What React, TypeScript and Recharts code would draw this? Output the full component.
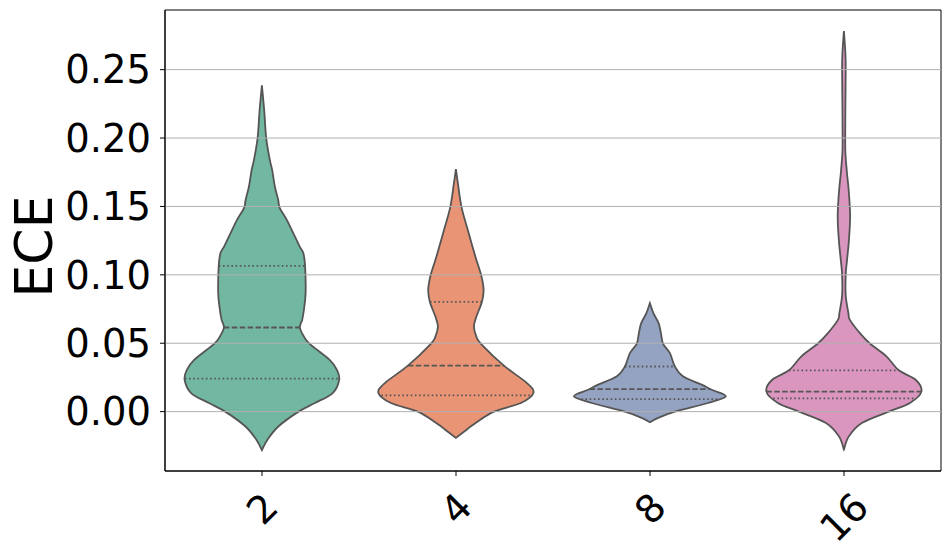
import React from "react";
import { ComposedChart, Bar, XAxis, YAxis, ReferenceLine, ReferenceArea, Cell } from "recharts";

// ---- data ----
const categories = ["2", "4", "8", "16"];
const yTicks = [0, 0.05, 0.1, 0.15, 0.2, 0.25];
const yDomain = [-0.0434, 0.2936];

// violin outlines: ECE value (top -> bottom) and half-width (density, 77.5 = widest)
const v2Values = [0.2385, 0.2203, 0.2, 0.1838, 0.1765, 0.1644, 0.1547, 0.149, 0.14, 0.13, 0.1206, 0.1158, 0.106, 0.0866, 0.0744, 0.0671, 0.0615, 0.0549, 0.0494, 0.038, 0.0306, 0.0233, 0.0136, 0.0063, 0, -0.0107, -0.0204, -0.0282];
const v2Widths = [0, 2.3, 4.3, 8, 10.3, 13, 16.3, 17.8, 25, 31.7, 37.8, 41.5, 43.2, 43.7, 42, 40.3, 38, 42, 48, 67.5, 75, 77.3, 70.8, 53, 36.7, 16.7, 5.7, 0];

const v4Values = [0.1773, 0.1668, 0.1493, 0.1304, 0.1133, 0.0997, 0.089, 0.0802, 0.0695, 0.0622, 0.0549, 0.0494, 0.0336, 0.0209, 0.0136, 0.0063, 0, -0.0082, -0.0155, -0.0192];
const v4Widths = [0, 2, 5.7, 12.8, 19.5, 25.3, 27.7, 26, 20.5, 18, 20.5, 25.3, 48, 71, 77.5, 65, 38, 20, 6.7, 0];

const v8Values = [0.0793, 0.072, 0.0647, 0.0574, 0.0496, 0.0428, 0.033, 0.0258, 0.0197, 0.016, 0.0112, 0.0063, 0, -0.0046, -0.0078];
const v8Widths = [0, 3.5, 8.7, 11, 13.2, 20, 25, 33, 51.7, 61.7, 76, 58, 25, 8.3, 0];

const v16Values = [0.2782, 0.262, 0.25, 0.225, 0.2, 0.189, 0.175, 0.16, 0.1425, 0.125, 0.11, 0.1, 0.085, 0.072, 0.0671, 0.0574, 0.0496, 0.0404, 0.0302, 0.0233, 0.0146, 0.0063, 0, -0.0082, -0.018, -0.0277];
const v16Widths = [0, 1.5, 1.8, 1.5, 1.3, 1.5, 3, 5, 6.2, 5, 3, 1.8, 1.8, 4.5, 6, 16, 26.3, 42.5, 55, 71.7, 77.5, 66, 45, 18.3, 5, 0];

// quartiles [Q1, median, Q3]
const v2Quart = [0.0241, 0.0615, 0.1065];
const v4Quart = [0.0119, 0.0336, 0.0802];
const v8Quart = [0.0092, 0.0165, 0.033];
const v16Quart = [0.0097, 0.0146, 0.0302];

const palette = ["#72b7a1", "#e99575", "#95a3c3", "#db96c0"];
const EDGE = "#555555";
const FONT = "DejaVu Sans";
const MAXW = 77.5;

const profiles = [
  { values: v2Values, widths: v2Widths, quart: v2Quart },
  { values: v4Values, widths: v4Widths, quart: v4Quart },
  { values: v8Values, widths: v8Widths, quart: v8Quart },
  { values: v16Values, widths: v16Widths, quart: v16Quart },
];

const data = categories.map((c, i) => {
  const p = profiles[i];
  return {
    cat: c,
    range: [Math.min(...p.values), Math.max(...p.values)],
    values: p.values,
    widths: p.widths,
    quart: p.quart,
  };
});

function crSegments(pts: number[][]) {
  let d = "";
  for (let i = 0; i < pts.length - 1; i++) {
    const p0 = pts[i - 1] || pts[i];
    const p1 = pts[i];
    const p2 = pts[i + 1];
    const p3 = pts[i + 2] || p2;
    const c1x = p1[0] + (p2[0] - p0[0]) / 6;
    const c1y = p1[1] + (p2[1] - p0[1]) / 6;
    const c2x = p2[0] - (p3[0] - p1[0]) / 6;
    const c2y = p2[1] - (p3[1] - p1[1]) / 6;
    d += `C${c1x},${c1y} ${c2x},${c2y} ${p2[0]},${p2[1]}`;
  }
  return d;
}

function widthAt(values: number[], widths: number[], v: number) {
  for (let i = 0; i < values.length - 1; i++) {
    const a = values[i], b = values[i + 1];
    if (v <= a && v >= b) {
      const t = a === b ? 0 : (a - v) / (a - b);
      return widths[i] + t * (widths[i + 1] - widths[i]);
    }
  }
  return 0;
}

function ViolinShape(props: any) {
  const { x, y, width, height, payload, fill } = props;
  const [lo, hi] = payload.range;
  const top = Math.min(y, y + height);
  const h = Math.abs(height);
  const toY = (v: number) => top + ((hi - v) / (hi - lo)) * h;
  const cx = x + width / 2;
  const k = width / 2 / MAXW;
  const right = payload.values.map((v: number, i: number) => [cx + payload.widths[i] * k, toY(v)]);
  const left = right.map((p: number[]) => [2 * cx - p[0], p[1]]).reverse();
  const d = `M${right[0][0]},${right[0][1]}` + crSegments(right) + crSegments(left) + "Z";
  const styles = ["1.6 2.6", "5.5 2.4", "1.6 2.6"];
  return (
    <g>
      <path d={d} fill={fill} stroke="none" />
      {payload.quart.map((q: number, i: number) => {
        const hw = widthAt(payload.values, payload.widths, q) * k;
        return (
          <line
            key={i}
            x1={cx - hw}
            x2={cx + hw}
            y1={toY(q)}
            y2={toY(q)}
            stroke={EDGE}
            strokeWidth={1.8}
            strokeDasharray={styles[i]}
          />
        );
      })}
      <path d={d} fill="none" stroke={EDGE} strokeWidth={1.8} />
    </g>
  );
}

function XTick(props: any) {
  const { x, y, payload } = props;
  const fs = 38.5;
  const label = String(payload.value);
  const w = label.length * 0.636 * fs;
  const hh = fs * 1.164;
  const half = ((w + hh) / 2) * 0.7071;
  const cy = y + 6 + half;
  return (
    <text
      x={x}
      y={cy}
      textAnchor="middle"
      dominantBaseline="central"
      fontSize={fs}
      fontFamily={FONT}
      fill="#000"
      transform={`rotate(-45, ${x}, ${cy})`}
    >
      {label}
    </text>
  );
}

function YLabel(props: any) {
  const vb = props.viewBox || {};
  const cx = 34;
  const cy = (vb.y || 0) + (vb.height || 0) / 2 + 6;
  return (
    <text
      x={cx}
      y={cy}
      textAnchor="middle"
      dominantBaseline="central"
      fontSize={52}
      fontFamily={FONT}
      fill="#000"
      transform={`rotate(-90, ${cx}, ${cy})`}
    >
      ECE
    </text>
  );
}

export default function App() {
  return (
    <div style={{ position: "absolute", left: 0, top: 0, width: 949, height: 553, background: "#fff" }}>
      <ComposedChart
        width={949}
        height={553}
        data={data}
        margin={{ top: 10, right: 8, bottom: 0, left: 0 }}
        barCategoryGap="10%"
      >
        <XAxis
          dataKey="cat"
          interval={0}
          tickSize={5}
          tickLine={{ stroke: "#000" }}
          axisLine={{ stroke: "#000", strokeWidth: 1 }}
          tick={<XTick />}
          height={82}
        />
        <YAxis
          type="number"
          domain={yDomain}
          ticks={yTicks}
          allowDataOverflow
          width={165}
          tickSize={5}
          tickMargin={9}
          tickLine={{ stroke: "#000" }}
          axisLine={{ stroke: "#000", strokeWidth: 1 }}
          tick={{ fontSize: 38.5, fontFamily: FONT, fill: "#000" }}
          tickFormatter={(v: number) => v.toFixed(2)}
          label={<YLabel />}
        />
        <Bar dataKey="range" isAnimationActive={false} shape={<ViolinShape />}>
          {data.map((d, i) => (
            <Cell key={d.cat} fill={palette[i]} />
          ))}
        </Bar>
        {yTicks.map((t) => (
          <ReferenceLine key={t} y={t} stroke="#b0b0b0" strokeWidth={1} />
        ))}
        <ReferenceArea
          y1={yDomain[0]}
          y2={yDomain[1]}
          fill="none"
          fillOpacity={0}
          stroke="#000"
          strokeWidth={1}
          ifOverflow="extendDomain"
        />
      </ComposedChart>
    </div>
  );
}
